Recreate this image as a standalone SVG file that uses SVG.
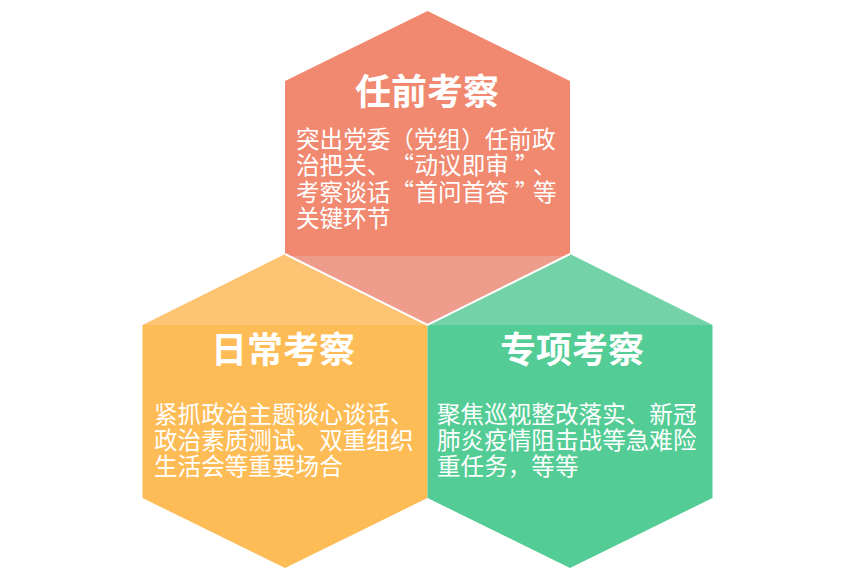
<svg xmlns="http://www.w3.org/2000/svg" width="861" height="575" viewBox="0 0 861 575">
<style>
.title{font-family:"Noto Sans CJK SC","Microsoft YaHei",sans-serif;font-weight:bold;font-size:36px;fill:#ffffff;text-anchor:middle}
.body{font-family:"Noto Sans CJK SC","Microsoft YaHei",sans-serif;font-size:23.6px;fill:#ffffff}
.end{text-anchor:end}
.sep{fill:none;stroke:#ffffff;stroke-width:2}
</style>
<rect width="861" height="575" fill="#ffffff"/>
<g id="node-daily">
<polygon points="142.5,325 427.5,325 427.5,498 285,568 142.5,498" fill="#FEBC56"/>
<polygon points="285,254 427.5,325 142.5,325" fill="#FDC473"/>
<text class="title" x="283" y="362.5">日常考察</text>
<text class="body" x="154" y="422.5">紧抓政治主题谈心谈话、</text>
<text class="body" x="154" y="448.5">政治素质测试、双重组织</text>
<text class="body" x="154" y="475">生活会等重要场合</text>
</g>
<g id="node-special">
<polygon points="427.5,325 712.5,325 712.5,498 570,568 427.5,498" fill="#54CC95"/>
<polygon points="570,254 712.5,325 427.5,325" fill="#73D2A7"/>
<text class="title" x="572" y="362.5">专项考察</text>
<text class="body" x="437" y="422.5">聚焦巡视整改落实、新冠</text>
<text class="body" x="437" y="448.5">肺炎疫情阻击战等急难险</text>
<text class="body" x="437" y="475">重任务，等等</text>
</g>
<g id="node-pre">
<polygon points="427.5,11 570,81 570,256 285,256 285,81" fill="#F08970"/>
<polygon points="285,254 285,256 570,256 570,254 427.5,325" fill="#EE9D8C"/>
<text class="title" x="427" y="104.5">任前考察</text>
<text class="body" x="296" y="147.5">突出党委（党组）任前政</text>
<text class="body" y="174"><tspan x="296">治把关、</tspan><tspan class="end" x="414">“</tspan><tspan x="414.5">动议即审</tspan><tspan x="515">”</tspan><tspan x="533">、</tspan></text>
<text class="body" y="200.5"><tspan x="296">考察谈话</tspan><tspan class="end" x="414">“</tspan><tspan x="414.5">首问首答</tspan><tspan x="515">”</tspan><tspan x="533">等</tspan></text>
<text class="body" x="296" y="227">关键环节</text>
</g>
<g id="connectors">
<polyline class="sep" points="285,254 427.5,325 570,254"/>
</g>
</svg>
